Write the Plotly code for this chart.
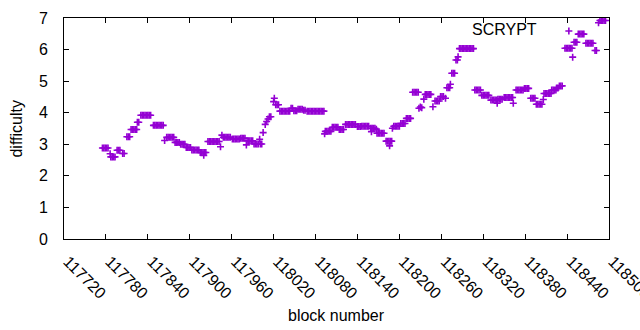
import plotly.graph_objects as go

blocks = [
    117775, 117777, 117779, 117781, 117783, 117786, 117787, 117789, 117791, 117793,
    117796, 117798, 117800, 117804, 117806, 117810, 117812, 117814,
    117816, 117818, 117820, 117822, 117824, 117825, 117827,
    117830, 117832, 117834, 117836, 117838, 117840, 117842, 117844,
    117848, 117850, 117852, 117854, 117856, 117858, 117860, 117862,
    117864, 117867, 117869, 117871, 117873, 117875, 117877,
    117879, 117881, 117883, 117885, 117887, 117889, 117891, 117893,
    117895, 117897, 117899, 117901, 117903, 117905, 117907, 117909, 117911, 117913,
    117915, 117917, 117919, 117920, 117921, 117923,
    117926, 117928, 117930, 117932, 117934, 117936, 117938, 117940, 117942,
    117944, 117946, 117948, 117950, 117952, 117954, 117956, 117958,
    117961, 117963, 117965, 117967, 117969, 117971, 117973, 117975, 117977, 117979,
    117981, 117982, 117984, 117986, 117988, 117990,
    117992, 117994, 117996, 117998, 118000, 118001, 118003,
    118005, 118008, 118010, 118012, 118014, 118016, 118020, 118021,
    118023, 118025, 118027,
    118029, 118031, 118033, 118035, 118037, 118039, 118041, 118043,
    118045, 118047, 118049, 118051, 118053, 118055, 118057, 118059, 118061,
    118063, 118065,
    118068, 118070, 118072, 118074, 118076, 118078, 118080, 118082, 118084, 118086,
    118088, 118090, 118092,
    118093, 118094, 118096, 118098, 118100, 118102,
    118104, 118106, 118108, 118110, 118112, 118114, 118116, 118118, 118120,
    118123, 118125, 118127, 118129, 118131, 118133, 118135, 118137,
    118140, 118142, 118144, 118146, 118148, 118150, 118152, 118154, 118156,
    118159, 118160, 118161, 118163, 118165, 118167,
    118168, 118170, 118172, 118174, 118176, 118178,
    118181, 118183, 118185, 118186, 118187, 118189, 118190,
    118192, 118194, 118196, 118198, 118200,
    118202, 118204, 118206, 118208, 118210, 118212, 118214, 118216,
    118219, 118221, 118223, 118225, 118227, 118228, 118230, 118232,
    118235, 118237, 118239, 118241, 118243, 118245, 118248,
    118251, 118253, 118255, 118257, 118259, 118261, 118263, 118266,
    118268, 118270, 118272, 118273, 118275, 118277, 118279,
    118281, 118283, 118284,
    118286, 118288, 118290, 118292, 118294, 118296, 118298, 118300, 118302, 118304, 118306,
    118308, 118310, 118312, 118314, 118316,
    118318, 118320, 118322, 118324, 118326, 118328,
    118331, 118333, 118335, 118337, 118339, 118340,
    118341, 118343, 118345, 118347,
    118350, 118352, 118354, 118356, 118358, 118360, 118362, 118363,
    118367, 118369, 118371, 118373, 118375, 118377,
    118379, 118381, 118383, 118385,
    118388, 118390, 118392, 118394,
    118396, 118398, 118400, 118402, 118404, 118406,
    118407, 118409, 118411, 118413, 118415, 118417,
    118418, 118420, 118422, 118424, 118425, 118427, 118429, 118431, 118433,
    118437, 118439, 118441, 118443, 118445, 118447, 118448,
    118450, 118452, 118454,
    118456, 118458, 118460, 118462, 118464,
    118467, 118469, 118471, 118473, 118475, 118477,
    118480, 118482, 118485,
    118487, 118489, 118491, 118493, 118495,
]

difficulty = [
    2.88, 2.88, 2.88, 2.88, 2.88, 2.70, 2.60, 2.60, 2.60, 2.60,
    2.81, 2.81, 2.81, 2.71, 2.71, 3.24, 3.24, 3.24,
    3.47, 3.47, 3.47, 3.47, 3.47, 3.70, 3.70,
    3.92, 3.92, 3.92, 3.92, 3.92, 3.92, 3.92, 3.92,
    3.60, 3.60, 3.60, 3.60, 3.60, 3.60, 3.60, 3.60,
    3.12, 3.22, 3.22, 3.22, 3.22, 3.22, 3.22,
    3.06, 3.06, 3.06, 3.06, 3.00, 3.00, 3.00, 3.00,
    2.90, 2.90, 2.90, 2.90, 2.82, 2.82, 2.82, 2.82, 2.82, 2.82,
    2.74, 2.74, 2.74, 2.65, 2.74, 2.74,
    3.09, 3.09, 3.09, 3.09, 3.09, 3.09, 3.09, 3.09, 3.09,
    2.92, 3.29, 3.22, 3.22, 3.22, 3.22, 3.22, 3.22,
    3.17, 3.17, 3.17, 3.17, 3.17, 3.17, 3.19, 3.19, 3.19, 3.19,
    2.98, 3.11, 3.11, 3.11, 3.11, 3.11,
    3.01, 3.01, 3.01, 3.01, 3.16, 3.01, 3.01,
    3.37, 3.63, 3.72, 3.80, 3.87, 3.87, 4.35, 4.46,
    4.25, 4.25, 4.25,
    4.05, 4.05, 4.05, 4.05, 4.05, 4.05, 4.05, 4.05,
    4.14, 4.14, 4.06, 4.06, 4.06, 4.11, 4.11, 4.11, 4.11,
    4.08, 4.08,
    4.05, 4.05, 4.05, 4.05, 4.05, 4.05, 4.05, 4.05, 4.05, 4.05,
    4.05, 4.05, 4.05,
    3.33, 3.41, 3.41, 3.41, 3.41, 3.41,
    3.54, 3.54, 3.54, 3.54, 3.54, 3.47, 3.47, 3.47, 3.47,
    3.63, 3.63, 3.63, 3.63, 3.63, 3.63, 3.63, 3.63,
    3.56, 3.56, 3.56, 3.57, 3.57, 3.57, 3.57, 3.57, 3.57,
    3.51, 3.40, 3.51, 3.51, 3.51, 3.48,
    3.35, 3.35, 3.35, 3.35, 3.35, 3.35,
    3.10, 3.10, 3.10, 2.95, 3.10, 3.10, 3.51,
    3.57, 3.57, 3.57, 3.57, 3.57,
    3.66, 3.66, 3.66, 3.66, 3.82, 3.82, 3.82, 3.82,
    4.65, 4.65, 4.65, 4.65, 4.65, 4.14, 4.18, 4.16,
    4.43, 4.58, 4.58, 4.58, 4.58, 4.58, 4.19,
    4.37, 4.37, 4.37, 4.37, 4.51, 4.51, 4.51, 4.46,
    4.79, 4.79, 4.79, 4.90, 5.25, 5.25, 5.25,
    5.67, 5.67, 5.77,
    6.03, 6.03, 6.03, 6.03, 6.03, 6.03, 6.03, 6.03, 6.03, 6.03, 6.03,
    4.72, 4.72, 4.72, 4.72, 4.72,
    4.55, 4.55, 4.55, 4.55, 4.55, 4.55,
    4.40, 4.40, 4.40, 4.40, 4.40, 4.30,
    4.43, 4.43, 4.43, 4.43,
    4.48, 4.48, 4.48, 4.48, 4.48, 4.48, 4.48, 4.30,
    4.72, 4.72, 4.72, 4.72, 4.72, 4.72,
    4.77, 4.77, 4.77, 4.77,
    4.46, 4.46, 4.46, 4.46,
    4.27, 4.27, 4.27, 4.27, 4.27, 4.42,
    4.61, 4.61, 4.61, 4.61, 4.61, 4.61,
    4.72, 4.72, 4.72, 4.72, 4.78, 4.78, 4.85, 4.85, 4.85,
    6.04, 6.04, 6.04, 6.04, 6.04, 6.04, 5.76,
    6.23, 6.23, 6.23,
    6.49, 6.49, 6.49, 6.49, 6.49,
    6.20, 6.20, 6.20, 6.20, 6.20, 6.20,
    5.97, 5.97, 6.85,
    6.92, 6.92, 6.92, 6.92, 6.92,
]

x_ticks = [117720, 117780, 117840, 117900, 117960, 118020, 118080,
           118140, 118200, 118260, 118320, 118380, 118440, 118500]
y_ticks = [0, 1, 2, 3, 4, 5, 6, 7]

series_name = "SCRYPT"
x_title = "block number"
y_title = "difficulty"
x_range = [117720, 118500]
y_range = [0, 7]

color = "#9400D3"
font = "Liberation Sans, Arial, sans-serif"
fsize = 16

fig = go.Figure()
fig.add_trace(go.Scatter(
    x=blocks, y=difficulty, mode="markers", name="",
    marker=dict(symbol="cross-thin", size=5, color=color,
                line=dict(width=1.6, color=color)),
))

axis_common = dict(
    showline=True, linecolor="black", linewidth=1, mirror="ticks",
    ticks="inside", ticklen=5, tickcolor="black", tickwidth=1,
    showgrid=False, zeroline=False, automargin=False,
    ticklabeloverflow="allow",
    tickfont=dict(family=font, size=fsize, color="black"),
)

fig.update_layout(
    width=640, height=330,
    margin=dict(l=64, r=31, t=18, b=91),
    paper_bgcolor="white", plot_bgcolor="white",
    font=dict(family=font, size=fsize, color="black"),
    xaxis=dict(range=x_range, tickmode="array", tickvals=x_ticks,
               ticktext=[str(v) for v in x_ticks], tickangle=45,
               ticklabelstandoff=6, ticklabelshift=4, **axis_common),
    yaxis=dict(range=y_range, tickmode="array", tickvals=y_ticks,
               ticktext=[str(v) for v in y_ticks],
               ticklabelstandoff=12, **axis_common),
    showlegend=True,
    legend=dict(
        title=dict(text=series_name, side="left",
                   font=dict(family=font, size=fsize, color="black")),
        x=0.745, y=0.941, xanchor="left", yanchor="middle",
        itemwidth=38,
        bgcolor="rgba(0,0,0,0)", borderwidth=0,
    ),
    annotations=[
        dict(text=x_title, xref="paper", yref="paper", x=0.5, y=-0.344,
             xanchor="center", yanchor="middle", showarrow=False,
             font=dict(family=font, size=fsize, color="black")),
        dict(text=y_title, xref="paper", yref="paper", x=-0.088, y=0.5,
             xanchor="center", yanchor="middle", showarrow=False, textangle=-90,
             font=dict(family=font, size=fsize, color="black")),
    ],
)

fig.write_html("out.html", config={"displayModeBar": False},
               post_script="document.body.style.margin='0';")
